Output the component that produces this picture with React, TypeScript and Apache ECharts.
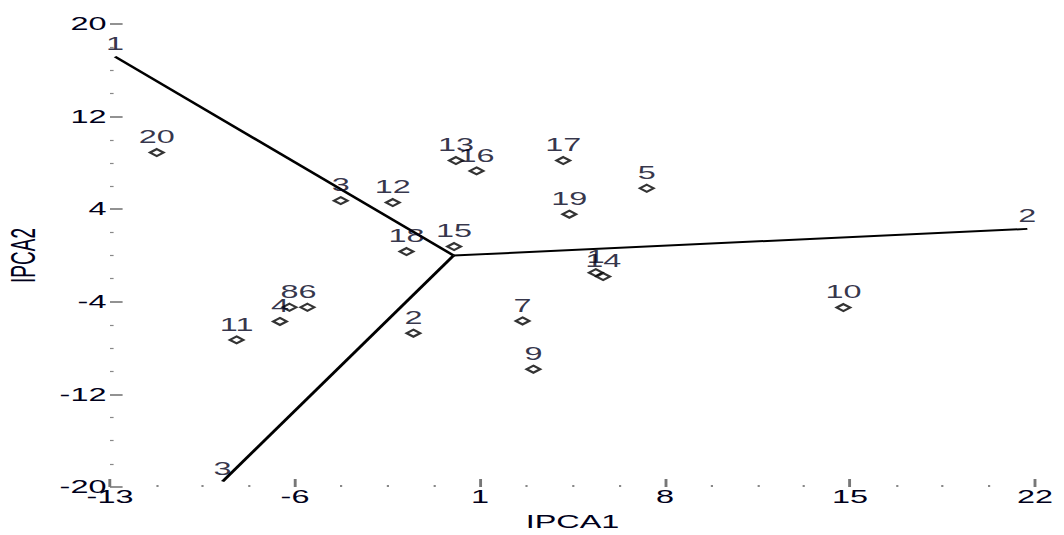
import React, { useEffect, useRef } from "react";
import * as echarts from "echarts";

// Genotype scores (IPCA1, IPCA2)
const genotypes = ["1", "2", "3", "4", "5", "6", "7", "8", "9", "10", "11", "12", "13", "14", "15", "16", "17", "18", "19", "20"];
const ipca1 = [5.38, -1.52, -4.27, -6.57, 7.31, -5.53, 2.61, -6.21, 3.02, 14.75, -8.21, -2.3, 0.09, 5.66, 0.02, 0.87, 4.15, -1.78, 4.38, -11.23];
const ipca2 = [-1.48, -6.71, 4.74, -5.7, 5.81, -4.47, -5.65, -4.47, -9.82, -4.5, -7.29, 4.57, 8.2, -1.82, 0.77, 7.31, 8.2, 0.34, 3.57, 8.89];

// Environment vectors
const envNames = ["1", "2", "3"];
const envX = [-12.81, 21.71, -8.74];
const envY = [17.18, 2.3, -19.52];

// Axis settings
const xMin = -13;
const xMax = 22;
const xStep = 7;
const yMin = -20;
const yMax = 20;
const yStep = 8;

const SX = 1.8;
const W = 1064 / SX;
const H = 535;
const FONT = "'Liberation Sans', Arial, sans-serif";
const TXT = "#00001a";

export default function App() {
  const ref = useRef<HTMLDivElement>(null);
  useEffect(() => {
    const chart = echarts.init(ref.current!, null, { renderer: "svg", width: W, height: H });
    const axisCommon = {
      type: "value",
      axisLine: { show: false, onZero: false },
      splitLine: { show: false },
      minorTick: { show: true, splitNumber: 4, length: 2, lineStyle: { color: "#888", width: 1.2 } },
    };
    chart.setOption({
      animation: false,
      backgroundColor: "#fff",
      grid: { left: 110 / SX, right: 29 / SX, top: 24, bottom: 48, containLabel: false, outerBoundsMode: "none" },
      xAxis: {
        ...axisCommon,
        min: xMin,
        max: xMax,
        interval: xStep,
        axisTick: { show: true, inside: true, length: 8, lineStyle: { color: "#777", width: 1.6 } },
        axisLabel: { color: TXT, fontSize: 18, fontFamily: FONT, margin: 1 },
        name: "IPCA1",
        nameLocation: "middle",
        nameGap: 26,
        nameTextStyle: { color: TXT, fontSize: 18, fontFamily: FONT },
      },
      yAxis: {
        ...axisCommon,
        min: yMin,
        max: yMax,
        interval: yStep,
        axisTick: { show: true, inside: true, length: 7, lineStyle: { color: "#777", width: 1.6 } },
        axisLabel: { color: TXT, fontSize: 18, fontFamily: FONT, margin: 2 },
        name: "IPCA2",
        nameLocation: "middle",
        nameRotate: 90,
        nameGap: 37,
        nameTextStyle: { color: TXT, fontSize: 19, fontFamily: FONT },
      },
      series: [
        ...envNames.map((n, i) => ({
          type: "line",
          name: "env" + n,
          data: [
            [0, 0],
            [envX[i], envY[i]],
          ],
          symbol: "none",
          silent: true,
          z: 2,
          lineStyle: { color: "#000", width: 2 },
        })),
        {
          type: "scatter",
          name: "envLabels",
          data: envNames.map((n, i) => ({ name: n, value: [envX[i], envY[i]] })),
          symbol: "circle",
          symbolSize: 0.1,
          itemStyle: { color: "rgba(0,0,0,0)" },
          label: { show: true, position: "top", distance: 4, formatter: "{b}", color: TXT, fontSize: 18, fontFamily: FONT },
          z: 3,
        },
        {
          type: "scatter",
          name: "genotypes",
          data: genotypes.map((g, i) => ({ name: g, value: [ipca1[i], ipca2[i]] })),
          symbol: "diamond",
          symbolSize: [7.5, 7],
          itemStyle: { color: "#fff", borderColor: "#000", borderWidth: 1.8 },
          label: { show: true, position: "top", distance: 2, formatter: "{b}", color: TXT, fontSize: 18, fontFamily: FONT },
          z: 4,
        },
      ],
    });
    return () => chart.dispose();
  }, []);
  return (
    <div style={{ position: "fixed", left: 0, top: 0, width: 1064, height: 535, overflow: "hidden", background: "#fff" }}>
      <div ref={ref} style={{ width: W, height: H, transform: `scaleX(${SX})`, transformOrigin: "0 0" }} />
    </div>
  );
}
